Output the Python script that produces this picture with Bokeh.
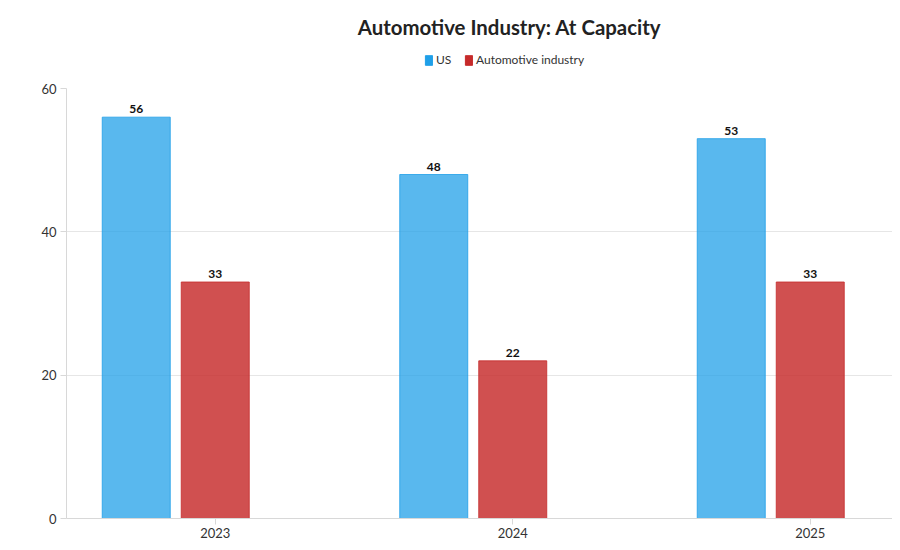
from bokeh.plotting import figure
from bokeh.layouts import column
from bokeh.models import (ColumnDataSource, FixedTicker, Legend, LegendItem, Range1d)
from bokeh.core.properties import value
from bokeh.transform import dodge
from bokeh.embed import file_html
from bokeh.resources import INLINE

categories = ["2023", "2024", "2025"]
us_values = [56, 48, 53]
auto_values = [33, 22, 33]
series_names = ["US", "Automotive industry"]
y_ticks = [0, 20, 40, 60]
title_text = "Automotive Industry: At Capacity"

FONT = "Lato"
BLUE = "#1f9fe8"
RED = "#c62a2a"

W = 892
LEFT = 66
HEAD_H = 80
MAIN_H = 462

xs = list(range(len(categories)))
src = ColumnDataSource(dict(
    x=xs, us=us_values, auto=auto_values,
    us_lbl=[str(v) for v in us_values],
    auto_lbl=[str(v) for v in auto_values],
))

# ---------- header: title + legend ----------
head = figure(width=W, height=HEAD_H, output_backend="svg", toolbar_location=None,
              x_range=Range1d(LEFT, W), y_range=Range1d(0, HEAD_H),
              x_axis_type=None, y_axis_type=None,
              min_border_left=LEFT, min_border_right=0, min_border_top=0, min_border_bottom=0)
head.outline_line_color = None
head.grid.grid_line_color = None
head.border_fill_color = "white"
head.text(x=[509], y=[HEAD_H - 26], text=[title_text], text_align="center",
          text_baseline="middle", text_font=value(FONT), text_font_size="20.4px",
          text_font_style="bold", text_color="#222222")

lg_us = head.vbar(x=[-100], top=[0], width=1, fill_color=BLUE, line_color=BLUE)
lg_auto = head.vbar(x=[-100], top=[0], width=1, fill_color=RED, line_color=RED)
legend = Legend(items=[LegendItem(label=series_names[0], renderers=[lg_us]),
                       LegendItem(label=series_names[1], renderers=[lg_auto])],
                orientation="horizontal", location=(424 - LEFT, HEAD_H - 67),
                glyph_width=9, glyph_height=12, label_text_font=FONT,
                label_text_font_size="12px", label_text_color="#333333",
                label_standoff=3, spacing=8, padding=0, margin=0,
                label_height=12, border_line_color=None, background_fill_alpha=0)
head.add_layout(legend, "center")

# ---------- main chart ----------
p = figure(width=W, height=MAIN_H, output_backend="svg", toolbar_location=None,
           x_range=Range1d(-0.5, -0.5 + (W - LEFT) / 297.5), y_range=Range1d(0, 60),
           min_border_left=LEFT, min_border_right=0, min_border_top=8,
           min_border_bottom=24)
p.outline_line_color = None
p.background_fill_color = "white"
p.border_fill_color = "white"

bw = 0.2286
off = -79 / 297.5
p.vbar(x=dodge("x", off, range=p.x_range), top="us", width=bw, source=src,
       fill_color=BLUE, fill_alpha=0.74, line_color=BLUE, line_alpha=0.8, line_width=1)
p.vbar(x="x", top="auto", width=bw, source=src,
       fill_color=RED, fill_alpha=0.82, line_color=RED, line_alpha=0.8, line_width=1)

p.text(x=dodge("x", off, range=p.x_range), y="us", text="us_lbl", source=src,
       text_align="center", text_baseline="bottom", y_offset=-4,
       text_font=value(FONT), text_font_size="12px", text_font_style="bold",
       text_color="#111111")
p.text(x="x", y="auto", text="auto_lbl", source=src,
       text_align="center", text_baseline="bottom", y_offset=-4,
       text_font=value(FONT), text_font_size="12px", text_font_style="bold",
       text_color="#111111")

p.xaxis.ticker = FixedTicker(ticks=xs)
p.xaxis.major_label_overrides = {i: c for i, c in enumerate(categories)}
p.yaxis.ticker = FixedTicker(ticks=y_ticks)
for ax in (p.xaxis, p.yaxis):
    ax.axis_line_color = "#d8d8d8"
    ax.major_tick_line_color = "#d8d8d8"
    ax.major_tick_out = 6
    ax.major_tick_in = 0
    ax.minor_tick_line_color = None
    ax.major_label_text_font = FONT
    ax.major_label_text_font_size = "13px"
    ax.major_label_text_color = "#333333"
p.yaxis.major_label_standoff = 4
p.xaxis.major_label_standoff = 3

p.xgrid.grid_line_color = None
p.ygrid.grid_line_color = "#e6e6e6"

layout = column(head, p, spacing=0)
open("out.html", "w").write(file_html(layout, INLINE))
